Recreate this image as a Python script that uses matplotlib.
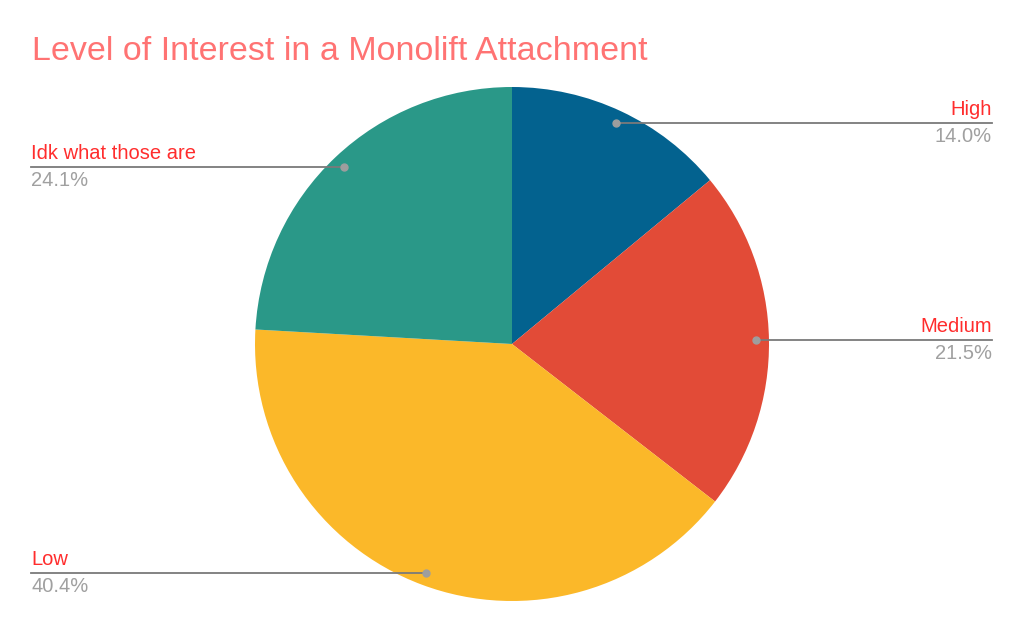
import numpy as np
import matplotlib.pyplot as plt

W, H = 1024, 633

labels = ['High', 'Medium', 'Low', 'Idk what those are']
values = [14.0, 21.5, 40.4, 24.1]
colors = ['#03628f', '#e24b37', '#fbb829', '#2a9888']
# which side each label sits on
sides = ['right', 'right', 'left', 'left']

plt.rcParams['font.family'] = ['Liberation Sans', 'DejaVu Sans']

fig = plt.figure(figsize=(W / 100, H / 100), dpi=100)
ax = fig.add_axes([0, 0, 1, 1])

cx, cy, r = 512, H - 344, 257
wedges, _ = ax.pie(values, colors=colors, startangle=90, counterclock=False,
                   center=(cx, cy), radius=r, frame=True,
                   wedgeprops=dict(linewidth=0))
ax.set_xlim(0, W)
ax.set_ylim(0, H)
ax.set_aspect('equal')
ax.axis('off')

for w, lab, val, side in zip(wedges, labels, values, sides):
    ang = np.deg2rad((w.theta1 + w.theta2) / 2)
    px = cx + 0.95 * r * np.cos(ang)
    py = cy + 0.95 * r * np.sin(ang)
    ax.plot([px], [py], 'o', color='#9e9e9e', ms=5, zorder=5)
    if side == 'right':
        x_end, ha = 992, 'right'
    else:
        x_end, ha = 31, 'left'
    ax.plot([px, x_end], [py, py], color='#7a7a7a', lw=1.3, zorder=4)
    ax.text(x_end, py + 4, lab, color='#ff2d2d', fontsize=14.5, ha=ha, va='bottom')
    ax.text(x_end, py - 4, f'{val:.1f}%', color='#a0a0a0', fontsize=14.5, ha=ha, va='top')

fig.text(32 / W, 1 - 60 / H, 'Level of Interest in a Monolift Attachment',
         color='#ff7373', fontsize=24.5, ha='left', va='baseline')

fig.savefig('out.png', dpi=100)
